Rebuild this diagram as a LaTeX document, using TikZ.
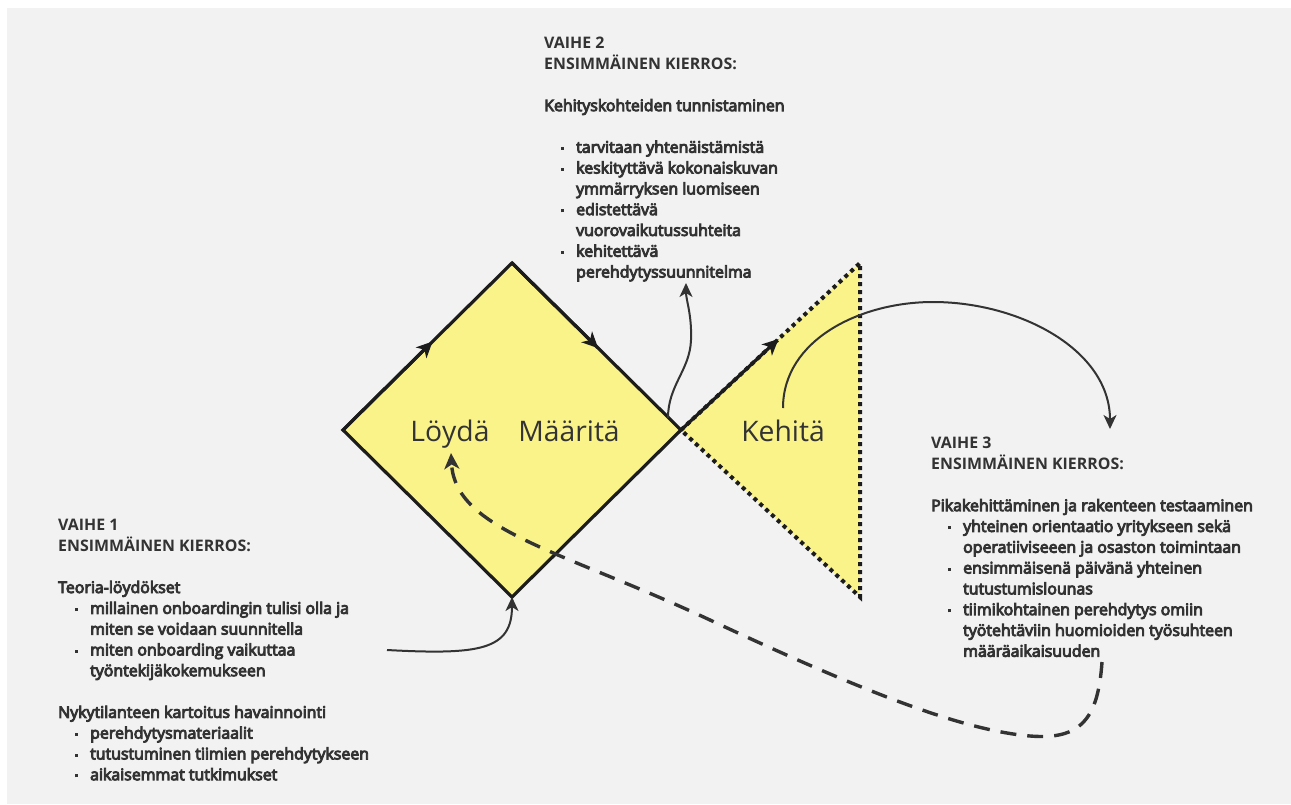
\documentclass[tikz,border=0pt]{standalone}
\usepackage{fontspec}
\setmainfont{Open Sans}
\usetikzlibrary{arrows.meta,calc}

\definecolor{bgray}{HTML}{F2F2F2}
\definecolor{ink}{HTML}{333333}
\definecolor{edge}{HTML}{1C1C1C}
\definecolor{pale}{HTML}{FAF38A}

% slightly heavier body text: fill and stroke the glyphs
\newcommand{\heavy}{\special{pdf:literal direct 0.2 0.2 0.2 RG 2 Tr 0.9 w}}
\newcommand{\plain}{\special{pdf:literal direct 0 Tr}}
% bullet and continuation indent for the text blocks
\newcommand{\bul}{\makebox[32pt][l]{\hspace*{17pt}\rule[2.8pt]{3pt}{3pt}}}
\newcommand{\ind}{\makebox[32pt]{}}
\newcommand{\hd}[1]{{\plain\bfseries #1\heavy}}

\tikzset{
  block/.style={anchor=north west, inner sep=0pt, align=left, text=ink,
    font=\fontsize{15.9}{20.8}\selectfont},
  lab/.style={anchor=base, inner sep=0pt, text=ink,
    font=\fontsize{28.3}{30}\selectfont},
  outline/.style={draw=edge, line width=3.2pt, line join=miter},
  dots/.style={draw=edge, line width=4pt, dash pattern=on 4pt off 4pt},
  edgearrow/.style={draw=edge, line width=3.2pt,
    -{Stealth[length=16pt,width=15pt,inset=4.5pt]}},
  link/.style={draw=ink, line width=2pt,
    -{Stealth[length=14pt,width=13pt,inset=4pt]}},
  backlink/.style={draw=ink, line width=3.4pt, dash pattern=on 16pt off 11pt,
    -{Stealth[length=16pt,width=15pt,inset=4.5pt]}}
}

\begin{document}
\begin{tikzpicture}[x=1pt,y=-1pt]
\useasboundingbox (0,0) rectangle (1291,804);
\fill[white] (0,0) rectangle (1291,804);
\fill[bgray] (7,8) rectangle (1291,804);

% double diamond corners
\coordinate (dL) at (343,430);
\coordinate (dT) at (512,263);
\coordinate (dR) at (681,430);
\coordinate (dB) at (512,597);
\coordinate (tT) at (860,263);
\coordinate (tB) at (860,597);

% second (half) diamond: dotted triangle
\fill[pale] (dR) -- (tT) -- (tB) -- cycle;
\draw[dots] (dR) -- (tT) -- (tB) -- (dR);

% first diamond
\path[fill=pale] (dL) -- (dT) -- (dR) -- (dB) -- cycle;
\draw[outline] (dL) -- (dT) -- (dR) -- (dB) -- cycle;

% direction arrows on the edges
\draw[edgearrow] (dL) -- ($(dL)!0.53!(dT)$);
\draw[edgearrow] (dT) -- ($(dT)!0.51!(dR)$);
\draw[edgearrow] (dR) -- ($(dR)!0.545!(tT)$);

% phase labels
\node[lab] (loyda) at (450,441) {Löydä};
\node[lab] (maarita) at (569,441) {Määritä};
\node[lab] (kehita) at (783,441) {Kehitä};

% phase 2 text
\node[block] (v2) at (544,37) {\heavy
\hd{VAIHE 2}\\
\hd{ENSIMMÄINEN KIERROS:}\\[20.8pt]
Kehityskohteiden tunnistaminen\\[20.8pt]
\bul tarvitaan yhtenäistämistä\\
\bul keskityttävä kokonaiskuvan\\
\ind ymmärryksen luomiseen\\
\bul edistettävä\\
\ind vuorovaikutussuhteita\\
\bul kehitettävä\\
\ind perehdytyssuunnitelma\plain};

% phase 1 text
\node[block] (v1) at (58,519) {\heavy
\hd{VAIHE 1}\\
\hd{ENSIMMÄINEN KIERROS:}\\[20.8pt]
Teoria-löydökset\\
\bul millainen onboardingin tulisi olla ja\\
\ind miten se voidaan suunnitella\\
\bul miten onboarding vaikuttaa\\
\ind työntekijäkokemukseen\\[20.8pt]
Nykytilanteen kartoitus havainnointi\\
\bul perehdytysmateriaalit\\
\bul tutustuminen tiimien perehdytykseen\\
\bul aikaisemmat tutkimukset\plain};

% phase 3 text
\node[block] (v3) at (931,437) {\heavy
\hd{VAIHE 3}\\
\hd{ENSIMMÄINEN KIERROS:}\\[20.8pt]
Pikakehittäminen ja rakenteen testaaminen\\
\bul yhteinen orientaatio yritykseen sekä\\
\ind operatiiviseeen ja osaston toimintaan\\
\bul ensimmäisenä päivänä yhteinen\\
\ind tutustumislounas\\
\bul tiimikohtainen perehdytys omiin\\
\ind työtehtäviin huomioiden työsuhteen\\
\ind määräaikaisuuden\plain};

% connector end points
\coordinate (s1) at (387,650);
\coordinate (s2) at (668,418);
\coordinate (e2) at (686,283);
\coordinate (s3) at (783,408);
\coordinate (e3) at (1110,429);
\coordinate (s4) at (1102,662);
\coordinate (e4) at (451,453);

% phase 1 findings feed the first diamond
\draw[link] (s1) .. controls (480,655) and (512,650) .. (dB);
% definition results go up to the phase 2 list
\draw[link] (s2) .. controls (668,385) and (690,370) .. (691,340)
  .. controls (692,315) and (686,300) .. (e2);
% development leads to phase 3
\draw[link] (s3) .. controls (783,340) and (860,302) .. (933,302)
  .. controls (1020,302) and (1110,350) .. (e3);
% iteration back to the start
\draw[backlink] (s4) .. controls (1098,720) and (1080,740) .. (1030,736)
  .. controls (960,730) and (860,690) .. (710,620)
  .. controls (560,550) and (455,530) .. (e4);
\end{tikzpicture}
\end{document}
